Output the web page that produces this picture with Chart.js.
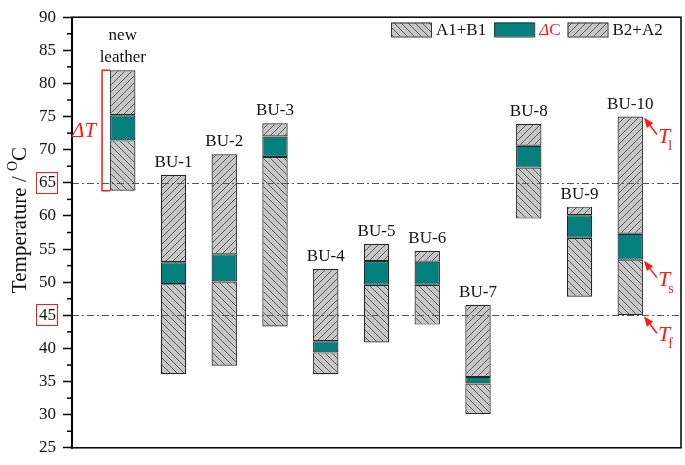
<!DOCTYPE html>
<html>
<head>
<meta charset="utf-8">
<script src="https://cdn.jsdelivr.net/npm/chart.js@4.4.0/dist/chart.umd.min.js"></script>
<style>
html, body { margin: 0; padding: 0; background: #fff; }
#wrap { width: 685px; height: 465px; }
</style>
</head>
<body>
<div id="wrap"><canvas id="tempChart"></canvas></div>
<script>
// data (°C)
const categories = ['new leather', 'BU-1', 'BU-2', 'BU-3', 'BU-4', 'BU-5', 'BU-6', 'BU-7', 'BU-8', 'BU-9', 'BU-10'];
const tf = [63.8, 36.1, 37.4, 43.3, 36.1, 40.9, 43.6, 30.1, 59.6, 47.8, 45.0];
const ts = [71.4, 49.7, 50.1, 68.9, 39.4, 49.6, 49.6, 34.7, 67.3, 56.7, 53.4];
const tc = [75.2, 53.0, 54.2, 72.0, 41.1, 53.2, 53.1, 35.7, 70.6, 60.1, 57.3];
const tl = [82.0, 66.2, 69.3, 74.0, 52.0, 55.8, 54.7, 46.6, 73.9, 61.4, 75.0];
const seriesNames = ['A1+B1', 'ΔC', 'B2+A2'];
const yMin = 25, yMax = 90, yStep = 5;
const refLines = [65, 45];

const FONT = 'Liberation Serif';
const RED = '#ff1a1a';
const TEAL = '#037f7d';

const canvas = document.getElementById('tempChart');
const ctx = canvas.getContext('2d');

function hatch(dir) {
  const s = 7;
  const c = document.createElement('canvas');
  c.width = s; c.height = s;
  const g = c.getContext('2d');
  g.fillStyle = '#c6c6c6';
  g.fillRect(0, 0, s, s);
  g.strokeStyle = '#404040';
  g.lineWidth = 0.8;
  g.beginPath();
  if (dir === '/') {
    g.moveTo(0, s); g.lineTo(s, 0);
    g.moveTo(-1, 1); g.lineTo(1, -1);
    g.moveTo(s - 1, s + 1); g.lineTo(s + 1, s - 1);
  } else {
    g.moveTo(0, 0); g.lineTo(s, s);
    g.moveTo(-1, s - 1); g.lineTo(1, s + 1);
    g.moveTo(s - 1, -1); g.lineTo(s + 1, 1);
  }
  g.stroke();
  return ctx.createPattern(c, 'repeat');
}

const fills = [hatch('\\'), TEAL, hatch('/')];

// pad one empty slot each side, like the original axis
const labels = [''].concat(categories, ['']);
function pairs(lo, hi) {
  return [null].concat(lo.map((v, i) => [v, hi[i]]), [null]);
}
const ranges = [pairs(tf, ts), pairs(ts, tc), pairs(tc, tl)];

function arrow(c, x1, y1, x2, y2) {
  // from tail (x1,y1) to head (x2,y2)
  const ang = Math.atan2(y2 - y1, x2 - x1);
  const hl = 10, hw = 4;
  const bx = x2 - hl * Math.cos(ang), by = y2 - hl * Math.sin(ang);
  c.beginPath();
  c.moveTo(x1, y1); c.lineTo(bx, by);
  c.stroke();
  c.beginPath();
  c.moveTo(x2, y2);
  c.lineTo(bx + hw * Math.sin(ang), by - hw * Math.cos(ang));
  c.lineTo(bx - hw * Math.sin(ang), by + hw * Math.cos(ang));
  c.closePath();
  c.fill();
}

function subLabel(c, x, y, main, sub) {
  c.font = 'italic 22px ' + FONT;
  c.textAlign = 'left';
  c.textBaseline = 'alphabetic';
  c.fillText(main, x, y);
  const w = c.measureText(main).width;
  c.font = '14px ' + FONT;
  c.fillText(sub, x + w - 2, y + 7);
}

const annotations = {
  id: 'annotations',
  afterDatasetsDraw(chart) {
    const c = chart.ctx;
    const a = chart.chartArea;
    const x = chart.scales.x, y = chart.scales.y;
    const barW = chart.getDatasetMeta(0).data[1].width;
    c.save();

    // dash-dot reference lines
    c.strokeStyle = '#555';
    c.lineWidth = 1;
    c.setLineDash([7, 3, 2, 3]);
    refLines.forEach(v => {
      const py = Math.round(y.getPixelForValue(v)) + 0.5;
      c.beginPath(); c.moveTo(a.left, py); c.lineTo(a.right, py); c.stroke();
    });
    c.setLineDash([]);

    // frame
    c.strokeStyle = '#000';
    c.lineWidth = 1.5;
    c.strokeRect(a.left, a.top, a.right - a.left, a.bottom - a.top);
    c.lineWidth = 2;
    c.beginPath(); c.moveTo(a.left, a.top); c.lineTo(a.left, a.bottom + 1); c.stroke();

    // minor ticks
    c.lineWidth = 1.5;
    for (let v = yMin + yStep / 2; v < yMax; v += yStep) {
      const py = y.getPixelForValue(v);
      c.beginPath(); c.moveTo(a.left - 5, py); c.lineTo(a.left, py); c.stroke();
    }

    // category names over each bar
    c.fillStyle = '#111';
    c.font = '17px ' + FONT;
    c.textAlign = 'center';
    c.textBaseline = 'alphabetic';
    categories.forEach((name, i) => {
      const px = x.getPixelForValue(i + 1);
      const top = y.getPixelForValue(tl[i]);
      const lines = name.split(' ');
      lines.forEach((ln, k) => {
        c.fillText(ln, px, top - 8 - (lines.length - 1 - k) * 22);
      });
    });

    // red boxes round the 65 and 45 tick labels
    c.strokeStyle = RED;
    c.lineWidth = 1;
    refLines.forEach(v => {
      const py = y.getPixelForValue(v);
      c.strokeRect(36.5, Math.round(py) - 10.5, 21, 21);
    });

    // ΔT bracket on the first bar
    const x0 = x.getPixelForValue(1) - barW / 2;
    const bx = x0 - 8;
    const yHi = y.getPixelForValue(tl[0]), yLo = y.getPixelForValue(tf[0]);
    c.lineWidth = 1.5;
    c.beginPath();
    c.moveTo(x0, yHi); c.lineTo(bx, yHi); c.lineTo(bx, yLo); c.lineTo(x0, yLo);
    c.stroke();
    c.fillStyle = RED;
    c.font = 'italic 21px ' + FONT;
    c.textAlign = 'right';
    c.textBaseline = 'middle';
    c.fillText('ΔT', bx - 6, (yHi + yLo) / 2 + 1);

    // T_l, T_s, T_f markers on the last bar
    const last = categories.length - 1;
    const xr = x.getPixelForValue(last + 1) + barW / 2;
    c.lineWidth = 1.5;
    const marks = [[tl[last], 'l'], [ts[last], 's'], [tf[last], 'f']];
    marks.forEach(([v, sub]) => {
      const py = y.getPixelForValue(v);
      arrow(c, xr + 14, py + 18, xr + 1, py + 1);
      subLabel(c, xr + 15, py + 26, 'T', sub);
    });

    // legend
    let lx = 391;
    const ly = 22.5, sw = 40, sh = 14;
    c.textBaseline = 'middle';
    c.textAlign = 'left';
    seriesNames.forEach((name, i) => {
      c.fillStyle = fills[i];
      c.fillRect(lx, ly, sw, sh);
      c.strokeStyle = '#333';
      c.lineWidth = 1;
      c.strokeRect(lx + 0.5, ly + 0.5, sw, sh);
      lx += sw + 5;
      if (name === 'ΔC') {
        c.fillStyle = RED;
        c.font = 'italic 17px ' + FONT;
        c.fillText('Δ', lx, ly + sh / 2 + 1);
        const dw = c.measureText('Δ').width;
        c.font = '17px ' + FONT;
        c.fillText('C', lx + dw, ly + sh / 2 + 1);
        lx += dw + c.measureText('C').width + 7;
      } else {
        c.fillStyle = '#111';
        c.font = '17px ' + FONT;
        c.fillText(name, lx, ly + sh / 2 + 1);
        lx += c.measureText(name).width + 8;
      }
    });

    // y title with superscript O
    c.translate(20, 220);
    c.rotate(-Math.PI / 2);
    c.fillStyle = '#111';
    const t1 = 'Temperature / ';
    c.font = '21px ' + FONT;
    const w1 = c.measureText(t1).width;
    const wC = c.measureText('C').width;
    c.font = '14px ' + FONT;
    const wO = c.measureText('O').width;
    let tx = -(w1 + wO + wC) / 2;
    c.textAlign = 'left';
    c.textBaseline = 'middle';
    c.font = '21px ' + FONT;
    c.fillText(t1, tx, 0);
    tx += w1;
    c.font = '14px ' + FONT;
    c.fillText('O', tx, -7);
    tx += wO;
    c.font = '21px ' + FONT;
    c.fillText('C', tx, 0);

    c.restore();
  }
};

new Chart(ctx, {
  type: 'bar',
  data: {
    labels: labels,
    datasets: seriesNames.map((name, i) => ({
      label: name,
      data: ranges[i],
      backgroundColor: fills[i],
      borderColor: '#262626',
      borderWidth: 1.2,
      borderSkipped: false,
      barPercentage: 0.5,
      categoryPercentage: 1.0
    }))
  },
  options: {
    responsive: true,
    maintainAspectRatio: false,
    animation: false,
    layout: { padding: { left: 0, right: 4, top: 10, bottom: 7 } },
    plugins: {
      legend: { display: false },
      tooltip: { enabled: false }
    },
    scales: {
      x: {
        display: false,
        stacked: true,
        offset: false
      },
      y: {
        stacked: false,
        min: yMin,
        max: yMax,
        afterFit(s) { s.width = 72; },
        border: { display: false },
        grid: { drawOnChartArea: false, drawTicks: true, tickLength: 9, tickWidth: 1.5, tickColor: '#000' },
        ticks: { stepSize: yStep, padding: 7, color: '#111', font: { family: FONT, size: 17 } }
      }
    }
  },
  plugins: [annotations]
});
</script>
</body>
</html>
